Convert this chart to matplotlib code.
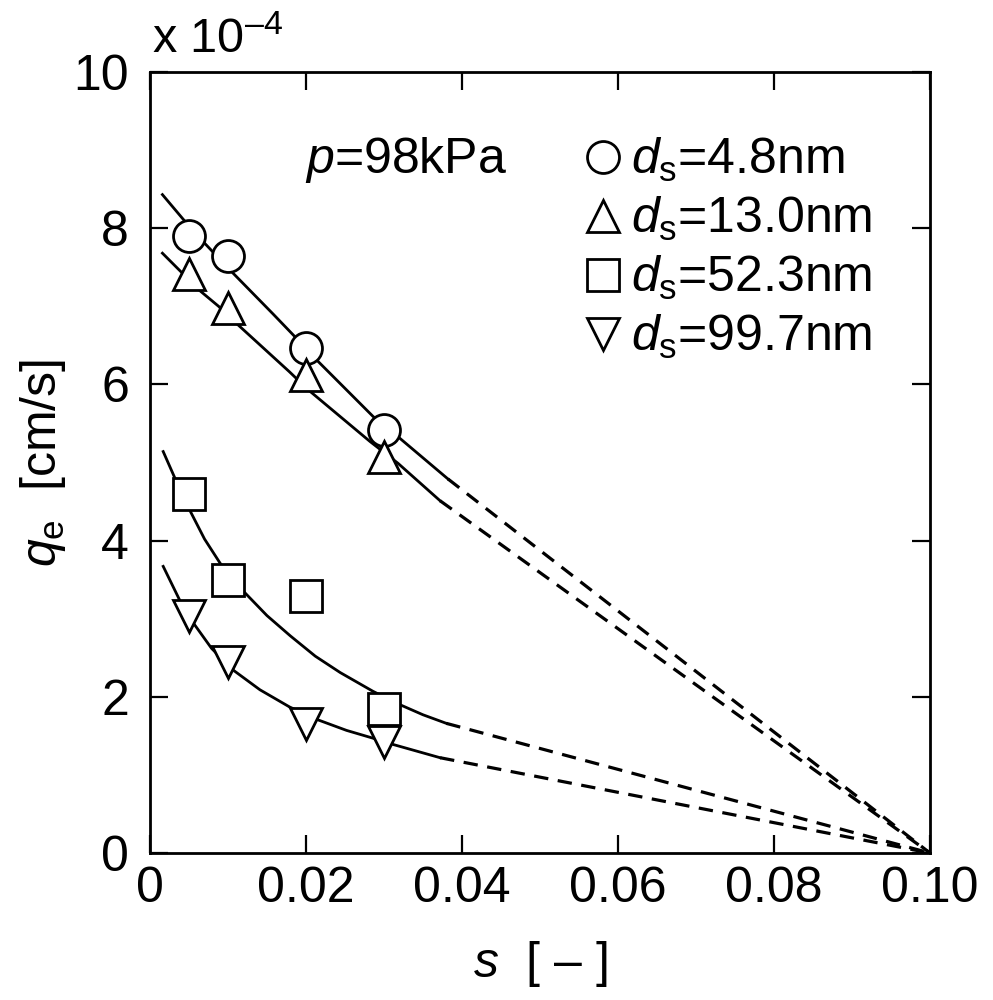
import matplotlib
matplotlib.use('Agg')
import matplotlib.pyplot as plt
from matplotlib.lines import Line2D

plt.rcParams['font.family'] = ['Liberation Sans', 'DejaVu Sans']
plt.rcParams['mathtext.fontset'] = 'custom'
plt.rcParams['mathtext.rm'] = 'Liberation Sans'
plt.rcParams['mathtext.it'] = 'Liberation Sans:italic'
plt.rcParams['mathtext.bf'] = 'Liberation Sans:bold'

# measured points (q in units of 1e-4 cm/s)
s_pts = [0.005, 0.01, 0.02, 0.03]
q_48 = [7.90, 7.64, 6.47, 5.41]
q_130 = [7.41, 6.98, 6.12, 5.07]
q_523 = [4.60, 3.50, 3.29, 1.85]
q_997 = [3.03, 2.44, 1.65, 1.42]

# fitted curves (solid part)
fit_s_48 = [0.0016, 0.0043, 0.0068, 0.0105, 0.0158, 0.0184, 0.0214, 0.0286, 0.0318, 0.0382]
fit_q_48 = [8.43, 8.11, 7.83, 7.44, 6.90, 6.63, 6.31, 5.59, 5.33, 4.79]
fit_s_130 = [0.0016, 0.0064, 0.0088, 0.0111, 0.0179, 0.0203, 0.0282, 0.0318, 0.0372]
fit_q_130 = [7.68, 7.20, 7.00, 6.78, 6.16, 5.93, 5.27, 4.99, 4.51]
fit_s_523 = [0.0017, 0.0032, 0.0051, 0.0070, 0.0090, 0.0120, 0.0150, 0.0180, 0.0212, 0.0244, 0.0286, 0.0318, 0.0350, 0.0380]
fit_q_523 = [5.14, 4.80, 4.39, 4.02, 3.71, 3.35, 3.04, 2.78, 2.52, 2.31, 2.07, 1.91, 1.77, 1.66]
fit_s_997 = [0.0017, 0.0038, 0.0056, 0.0079, 0.0107, 0.0141, 0.0179, 0.0214, 0.0252, 0.0286, 0.0308, 0.0340, 0.0372]
fit_q_997 = [3.67, 3.24, 2.94, 2.62, 2.34, 2.09, 1.87, 1.71, 1.57, 1.47, 1.40, 1.31, 1.22]

# extrapolation end point
s_end = 0.10
q_end = 0.0

labels = [r'$d_{\mathrm{s}}$=4.8nm', r'$d_{\mathrm{s}}$=13.0nm',
          r'$d_{\mathrm{s}}$=52.3nm', r'$d_{\mathrm{s}}$=99.7nm']
markers = ['o', '^', 's', 'v']

fig = plt.figure(figsize=(9.93, 10), dpi=100)
ax = fig.add_axes([0.151, 0.147, 0.7855, 0.781])

fits = [(fit_s_48, fit_q_48), (fit_s_130, fit_q_130),
        (fit_s_523, fit_q_523), (fit_s_997, fit_q_997)]
for fs, fq in fits:
    ax.plot(fs, fq, color='black', lw=2.0, zorder=2, solid_joinstyle='round')
    ax.plot([fs[-1], s_end], [fq[-1], q_end], color='black', lw=2.3,
            dashes=(4.5, 3), zorder=2)

handles = []
for q, m, lab in zip([q_48, q_130, q_523, q_997], markers, labels):
    ax.plot(s_pts, q, linestyle='none', marker=m, ms=23, mfc='white',
            mec='black', mew=2.0, zorder=3)
    handles.append(Line2D([], [], linestyle='none', marker=m, ms=23,
                          mfc='white', mec='black', mew=2.0, label=lab))

ax.set_xlim(0, 0.10)
ax.set_ylim(0, 10)
ax.set_xticks([0, 0.02, 0.04, 0.06, 0.08, 0.10])
ax.set_xticklabels(['0', '0.02', '0.04', '0.06', '0.08', '0.10'])
ax.set_yticks([0, 2, 4, 6, 8, 10])
ax.set_yticklabels(['0', '2', '4', '6', '8', '10'])
ax.tick_params(direction='in', length=13, width=1.6, top=True, right=True,
               labelsize=36)
ax.tick_params(axis='x', pad=9)
ax.tick_params(axis='y', pad=15)
for sp in ax.spines.values():
    sp.set_linewidth(2.0)

ax.set_xlabel(r'$s$  [ – ]', fontsize=36, labelpad=20)
ax.set_ylabel(r'$q_{\mathrm{e}}$  [cm/s]', fontsize=36, labelpad=4)

ax.text(0.003, 1.012, r'x 10$^{\mathregular{–4}}$', transform=ax.transAxes,
        fontsize=35, ha='left', va='bottom')
ax.text(0.199, 0.887, r'$p$=98kPa', transform=ax.transAxes,
        fontsize=36, ha='left', va='center')

leg = ax.legend(handles=handles, loc='upper left', bbox_to_anchor=(0.553, 0.918),
                frameon=False, fontsize=36, handlelength=0.85, handletextpad=0.15,
                labelspacing=0.22, borderpad=0, borderaxespad=0, numpoints=1)

fig.savefig('out.png', dpi=100)
